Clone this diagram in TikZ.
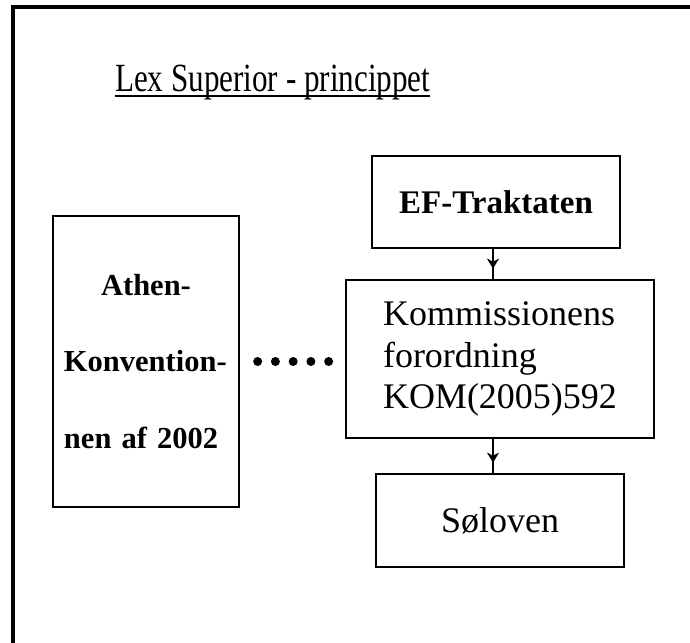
\documentclass[tikz,border=0pt]{standalone}
\usepackage{fontspec}
\setmainfont{Liberation Serif}
\usepackage{graphicx}
\usepackage{tikz}
\usetikzlibrary{positioning, arrows.meta}

\begin{document}
\begin{tikzpicture}[x=1bp, y=-1bp,
    boks/.style={draw, line width=1.3bp, inner sep=0pt},
    pil/.style={line width=1.3bp, -{Stealth[length=10bp,width=12bp,inset=3bp]}},
    prikker/.style={line width=9bp, line cap=round, dash pattern=on 0bp off 17.75bp}]
  \useasboundingbox (0,0) rectangle (690,643);
  \draw[line width=3.6bp] (13,700) -- (13,7) -- (720,7);
  \node[anchor=base west, inner sep=0pt, font=\fontsize{40bp}{48bp}\selectfont] (titel) at (115,92)
    {\scalebox{0.777}[1]{Lex Superior - princippet}};
  \draw[line width=1.3bp] ([yshift=-4bp]titel.base west) -- ([yshift=-4bp]titel.base east);
  \node[boks, minimum width=248bp, minimum height=92bp,
    font=\bfseries\fontsize{33bp}{40bp}\selectfont] (ef) at (496,202) {EF-Traktaten};
  \node[boks, minimum width=308bp, minimum height=158bp, align=left,
    font=\fontsize{36bp}{41.5bp}\selectfont] (komm) at (500,359)
    {Kommissionens\\forordning\\KOM(2005)592};
  \node[boks, minimum width=248bp, minimum height=93bp,
    font=\fontsize{36bp}{43bp}\selectfont] (sol) at (500,520.5) {Søloven};
  \node[boks, minimum width=186bp, minimum height=291bp, text width=164bp, align=left,
    font=\bfseries\fontsize{30.5bp}{76.5bp}\selectfont] (athen) at (146,361.5)
    {\makebox[164bp]{Athen-}\\Konvention-\\nen af 2002};
  % forbindelser
  \coordinate (ax) at (493,0);
  \coordinate (pe) at (athen.east -| komm.west);
  \draw[line width=1.3bp] (ef.south -| ax) -- (komm.north -| ax);
  \draw[pil] (ef.south -| ax) -- ++(0,20);
  \draw[line width=1.3bp] (komm.south -| ax) -- (sol.north -| ax);
  \draw[pil] (komm.south -| ax) -- ++(0,24);
  \draw[prikker] ([xshift=18bp]athen.east) -- ([xshift=-16bp]pe);
\end{tikzpicture}
\end{document}
